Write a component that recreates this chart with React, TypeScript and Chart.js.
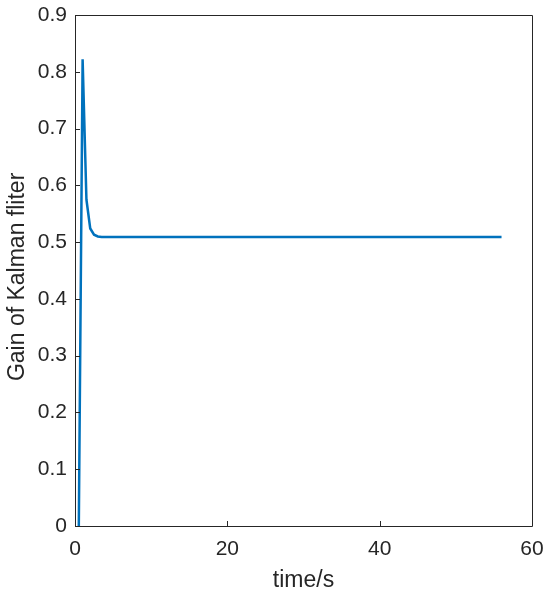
import React, { useEffect, useRef } from "react";
import { Chart, registerables } from "chart.js";

Chart.register(...registerables);

const timeValues = [0.5, 1, 1.5, 2, 2.5, 3, 3.5, 4, 5, 56];
const gainValues = [0, 0.822, 0.575, 0.524, 0.513, 0.510, 0.509, 0.509, 0.509, 0.509];
const xTicks = [0, 20, 40, 60];
const yTicks = [0, 0.1, 0.2, 0.3, 0.4, 0.5, 0.6, 0.7, 0.8, 0.9];

const AXIS_COLOR = "#262626";
const FONT = "Liberation Sans, Arial, Helvetica, sans-serif";

const boxPlugin = {
  id: "matlabBox",
  afterDraw(chart: any) {
    const { ctx, chartArea, scales } = chart;
    const { left, right, top, bottom } = chartArea;
    ctx.save();
    ctx.strokeStyle = AXIS_COLOR;
    ctx.lineWidth = 1;
    ctx.beginPath();
    ctx.rect(Math.round(left) + 0.5, Math.round(top) + 0.5, Math.round(right - left), Math.round(bottom - top));
    ctx.stroke();
    ctx.beginPath();
    const tl = 5;
    for (const v of yTicks) {
      const y = Math.round(scales.y.getPixelForValue(v)) + 0.5;
      ctx.moveTo(Math.round(left), y);
      ctx.lineTo(Math.round(left) + tl, y);
    }
    for (const v of xTicks) {
      const x = Math.round(scales.x.getPixelForValue(v)) + 0.5;
      ctx.moveTo(x, Math.round(bottom));
      ctx.lineTo(x, Math.round(bottom) - tl);
    }
    ctx.stroke();
    ctx.restore();
  },
};

export default function App() {
  const ref = useRef<HTMLCanvasElement>(null);
  useEffect(() => {
    document.body.style.margin = "0";
    const chart = new Chart(ref.current as HTMLCanvasElement, {
      type: "line",
      data: {
        datasets: [
          {
            data: timeValues.map((t, i) => ({ x: t, y: gainValues[i] })),
            borderColor: "#0072BD",
            borderWidth: 2.5,
            pointRadius: 0,
            tension: 0,
            fill: false,
          },
        ],
      },
      options: {
        animation: false,
        responsive: false,
        layout: { padding: { top: 15, right: 18, left: 0, bottom: 0 } },
        plugins: { legend: { display: false }, tooltip: { enabled: false } },
        scales: {
          x: {
            type: "linear",
            min: 0,
            max: 60,
            afterBuildTicks: (s: any) => {
              s.ticks = xTicks.map((v) => ({ value: v }));
            },
            afterFit: (s: any) => {
              s.height = 68;
              s.paddingLeft = 0;
              s.paddingRight = 0;
            },
            grid: { display: false, drawTicks: false },
            border: { display: false },
            ticks: { color: AXIS_COLOR, font: { family: FONT, size: 21 }, padding: 11, maxRotation: 0 },
            title: {
              display: true,
              text: "time/s",
              color: AXIS_COLOR,
              font: { family: FONT, size: 23 },
              padding: { top: 0, bottom: 0 },
            },
          },
          y: {
            type: "linear",
            min: 0,
            max: 0.9,
            afterBuildTicks: (s: any) => {
              s.ticks = yTicks.map((v) => ({ value: v }));
            },
            afterFit: (s: any) => {
              s.width = 75;
              s.paddingTop = 0;
              s.paddingBottom = 0;
            },
            grid: { display: false, drawTicks: false },
            border: { display: false },
            ticks: {
              color: AXIS_COLOR,
              font: { family: FONT, size: 21 },
              padding: 8,
              callback: (v: any) => (v === 0 ? "0" : Number(v).toFixed(1)),
            },
            title: {
              display: true,
              text: "Gain of Kalman fliter  ",
              color: AXIS_COLOR,
              font: { family: FONT, size: 23 },
              padding: { top: 4, bottom: 0 },
            },
          },
        },
      },
      plugins: [boxPlugin],
    });
    return () => chart.destroy();
  }, []);
  return (
    <div style={{ position: "absolute", left: 0, top: 0, width: 550, height: 594, background: "#fff" }}>
      <canvas ref={ref} width={550} height={594} style={{ width: 550, height: 594 }} />
    </div>
  );
}
